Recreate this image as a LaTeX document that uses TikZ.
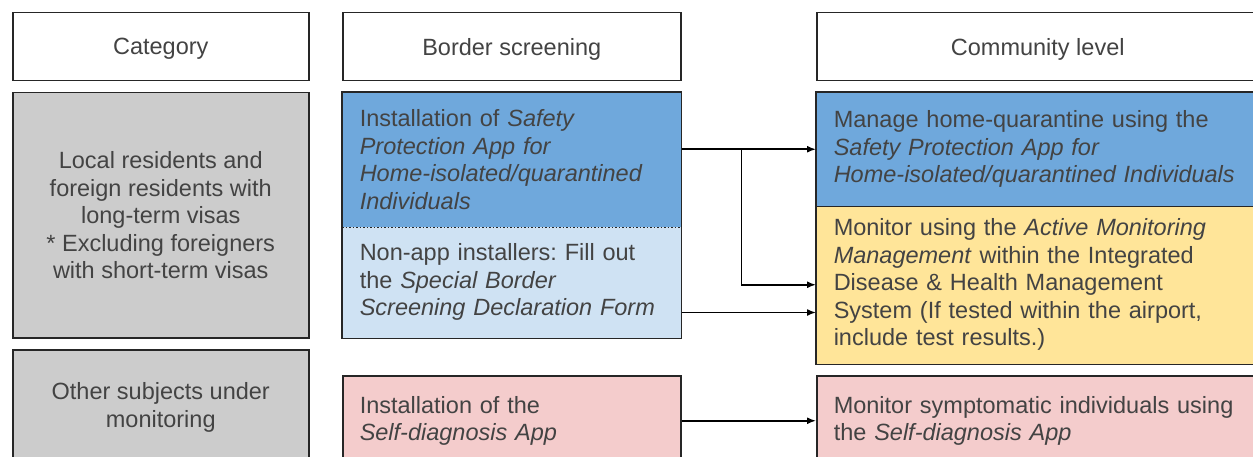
\documentclass[tikz,border=0pt]{standalone}
\usepackage{fontspec}
\setmainfont{Liberation Sans}
\usetikzlibrary{arrows.meta,calc}
\definecolor{TxtClr}{HTML}{434343}
\definecolor{CatClr}{HTML}{CCCCCC}
\definecolor{AppClr}{HTML}{6FA8DC}
\definecolor{FormClr}{HTML}{CFE2F3}
\definecolor{MonClr}{HTML}{FFE599}
\definecolor{SelfClr}{HTML}{F4CCCC}
\frenchspacing

\begin{document}
\begin{tikzpicture}[x=1pt,y=-1pt,
  box/.style={draw=black!85,line width=1.5pt,rectangle,anchor=north west,
    inner xsep=17pt,inner ysep=0pt,text=TxtClr,
    font=\fontsize{23.5}{27.5}\selectfont},
  head/.style={box,fill=white,minimum height=68pt,align=center,text depth=0pt},
  fillbox/.style={box,draw=none,align=left},
  arr/.style={line width=1.5pt,-{Latex[length=9pt,width=7pt]}}]
\useasboundingbox (0,0) rectangle (1253,457);
\clip (0,0) rectangle (1253,457);

\node[head,minimum width=296pt] (cat) at (12,12) {Category};
\node[head,minimum width=338pt] (bord) at (342,12) {Border screening};
\node[head,minimum width=442pt] (comm) at (816,12) {Community level};

\node[box,fill=CatClr,minimum width=296pt,minimum height=245pt,align=center] (res) at (12,92)
  {Local residents and\\foreign residents with\\long-term visas\\* Excluding foreigners\\with short-term visas};
\node[box,fill=CatClr,minimum width=296pt,minimum height=115pt,align=center] (oth) at (12,349)
  {Other subjects under\\monitoring};

\node[fillbox,fill=AppClr,minimum width=338pt,minimum height=134pt,text width=304pt] (inst) at (342,92)
  {Installation of \textit{Safety}\\\textit{Protection App for}\\\textit{Home-isolated/quarantined}\\\textit{Individuals}};
\node[fillbox,fill=FormClr,minimum width=338pt,minimum height=111pt,text width=304pt] (form) at (342,226)
  {Non-app installers: Fill out\\the \textit{Special Border}\\\textit{Screening Declaration Form}};
\draw[draw=black!85,line width=1.5pt] (inst.north west) rectangle (form.south east);
\draw[draw=black!85,line width=1.5pt,dotted] (inst.south west) -- (inst.south east);

\node[fillbox,fill=AppClr,minimum width=442pt,minimum height=113pt,text width=408pt] (mgr) at (816,92)
  {Manage home-quarantine using the\\\textit{Safety Protection App for}\\\textit{Home-isolated/quarantined Individuals}};
\node[fillbox,fill=MonClr,minimum width=442pt,minimum height=158pt,text width=408pt] (mon) at (816,205)
  {Monitor using the \textit{Active Monitoring}\\\textit{Management} within the Integrated\\Disease \& Health Management\\System (If tested within the airport,\\include test results.)};
\draw[draw=black!85,line width=1.5pt] (mgr.north west) rectangle (mon.south east);
\draw[draw=black!85,line width=1.5pt] (mgr.south west) -- (mgr.south east);

\node[box,fill=SelfClr,minimum width=338pt,minimum height=90pt,text width=304pt,align=left] (self) at (342,375)
  {Installation of the\\\textit{Self-diagnosis App}};
\node[box,fill=SelfClr,minimum width=442pt,minimum height=90pt,text width=408pt,align=left] (symp) at (816,375)
  {Monitor symptomatic individuals using\\the \textit{Self-diagnosis App}};

% connectors
\coordinate (a) at (inst.east |- mgr.west);
\draw[arr] (a) -- (mgr.west);
\draw[arr] (a) -- ++(60,0) |- (mon.west);
\coordinate (f) at ($(form.south east)+(0,-26)$);
\draw[arr] (f) -- (f -| mon.west);
\draw[arr] (self.east) -- (symp.west);

\end{tikzpicture}
\end{document}
